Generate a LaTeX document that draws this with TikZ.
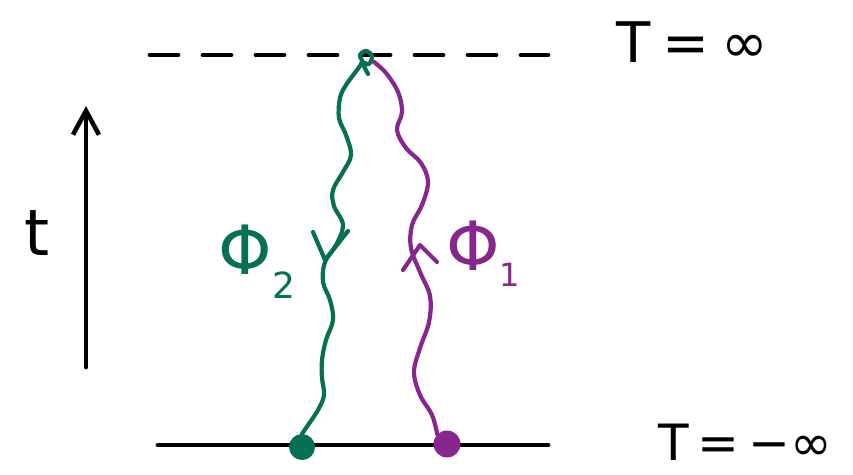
\documentclass[tikz,border=0pt]{standalone}
\usepackage{fontspec}
\setmainfont{DejaVu Sans}
\usetikzlibrary{arrows.meta}
\definecolor{pgreen}{RGB}{6,112,84}
\definecolor{ppurple}{RGB}{135,38,140}
\tikzset{
  blackline/.style={line width=4.8pt, line cap=round, black},
  wline/.style={line width=4.2pt, line cap=round, line join=round},
  dotnode/.style={circle, inner sep=0pt, minimum size=26pt},
  bigtext/.style={inner sep=0pt, font=\fontsize{56}{60}\selectfont},
  philabel/.style={inner sep=0pt, font=\fontsize{68}{70}\selectfont},
}
\begin{document}
\begin{tikzpicture}[x=1pt,y=-1pt]
\useasboundingbox (0,0) rectangle (853,474);
% horizontal lines
\coordinate (topL) at (150,55);
\coordinate (topR) at (548,55);
\draw[blackline, dash pattern=on 28pt off 25pt] (topL) -- (topR);
\coordinate (botL) at (158,445);
\coordinate (botR) at (548,445);
\draw[blackline] (botL) -- (botR);
% time axis
\coordinate (ax0) at (86,367);
\coordinate (ax1) at (86,106);
\draw[blackline, -{Straight Barb[length=24pt,width=26pt,line width=4.5pt]}] (ax0) -- (ax1);
\node[bigtext, font=\fontsize{64}{66}\selectfont, anchor=base] (tlab) at (37,255) {t};
% labels
\node[bigtext, anchor=base west] (Tinf) at (616,62) {T\hspace{12pt}=\hspace{12pt}∞};
\node[bigtext, font=\fontsize{50}{54}\selectfont, anchor=base west] (Tminf) at (658,460) {T\hspace{9pt}=\hspace{9pt}−∞};
% dots
\node[dotnode, fill=pgreen] (gdot) at (302,447) {};
\node[dotnode, fill=ppurple, minimum size=27pt] (pdot) at (447,444) {};
\coordinate (top) at (366,60);
% green propagator
\draw[wline, pgreen] plot[smooth, tension=0.6] coordinates {
 (gdot.north) (306,428) (318,410) (324,395) (322,378) (322,360) (326,340) (333,320)
 (330,300) (323,282) (325,262) (336,245) (343,225) (334,206) (333,190) (343,172)
 (351,155) (346,135) (339,118) (340,98) (346,85) (357,70) (362,62) (360,55)
 (366,51) (372,56) (369,64) (363,63) (368,74)};
% purple propagator
\draw[wline, ppurple] plot[smooth, tension=0.6] coordinates {
 (pdot.north west) (432,415) (420,395) (414,372) (420,348) (429,322) (430,296)
 (420,272) (411,248) (412,225) (422,205) (428,182) (421,163) (406,148) (397,130)
 (402,112) (398,92) (386,73) (374,62)};
% arrowheads
\draw[wline, pgreen] (313,232) -- (325,260) -- (348,231);
\draw[wline, ppurple] (403,270) -- (420,245) -- (437,262);
% phi labels
\node[philabel, text=pgreen, anchor=center] (phi2) at (257,262) {Φ\raisebox{-24pt}{\fontsize{36}{36}\selectfont 2}};
\node[philabel, text=ppurple, anchor=center] (phi1) at (483,254) {Φ\raisebox{-16pt}{\fontsize{32}{32}\selectfont 1}};
\end{tikzpicture}
\end{document}
